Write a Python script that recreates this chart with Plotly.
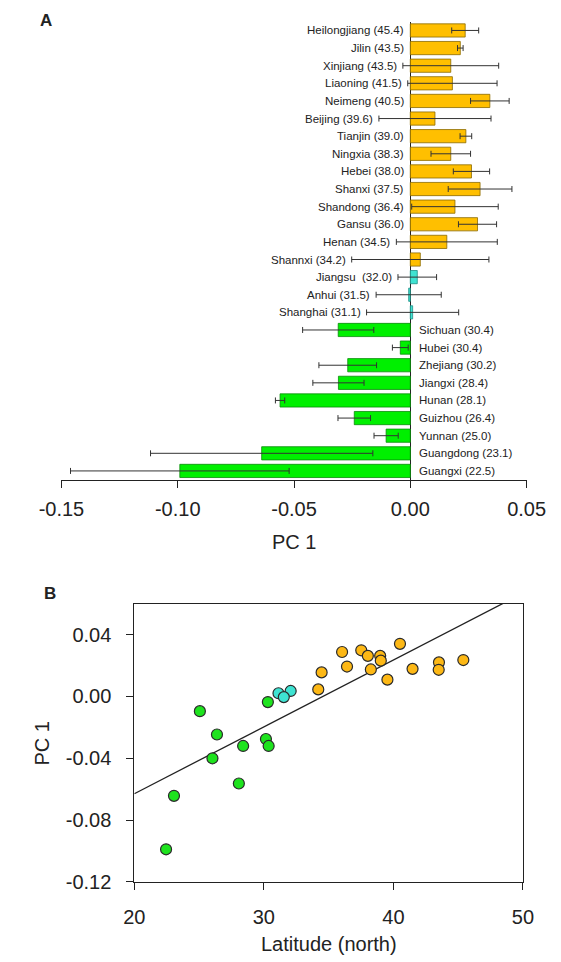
import numpy as np
import plotly.graph_objects as go

# ---------------- Panel A data (top to bottom) ----------------
provinces = ["Heilongjiang (45.4)", "Jilin (43.5)", "Xinjiang (43.5)", "Liaoning (41.5)",
             "Neimeng (40.5)", "Beijing (39.6)", "Tianjin (39.0)", "Ningxia (38.3)",
             "Hebei (38.0)", "Shanxi (37.5)", "Shandong (36.4)", "Gansu (36.0)",
             "Henan (34.5)", "Shannxi (34.2)", "Jiangsu\u00a0 (32.0)", "Anhui (31.5)",
             "Shanghai (31.1)", "Sichuan (30.4)", "Hubei (30.4)", "Zhejiang (30.2)",
             "Jiangxi (28.4)", "Hunan (28.1)", "Guizhou (26.4)", "Yunnan (25.0)",
             "Guangdong (23.1)", "Guangxi (22.5)"]
pc1_mean = [0.0236, 0.0215, 0.0174, 0.0181, 0.0342, 0.0106, 0.0239, 0.0174,
            0.0263, 0.0300, 0.0192, 0.0289, 0.0157, 0.0043, 0.0030, -0.0007,
            0.0010, -0.0310, -0.0043, -0.0269, -0.0309, -0.0560, -0.0241, -0.0104,
            -0.0639, -0.0991]
pc1_err = [0.0058, 0.0012, 0.0206, 0.0192, 0.0083, 0.0241, 0.0025, 0.0085,
           0.0078, 0.0137, 0.0186, 0.0082, 0.0217, 0.0295, 0.0083, 0.0140,
           0.0198, 0.0153, 0.0034, 0.0124, 0.0110, 0.0020, 0.0070, 0.0052,
           0.0478, 0.0470]
group_a = ["N"] * 14 + ["T"] * 3 + ["S"] * 9

# ---------------- Panel B data ----------------
lat_b = [34.2, 34.46, 36.04, 36.42, 37.52, 38.03, 38.26, 38.98, 39.03, 39.54,
         40.51, 41.48, 43.52, 43.5, 45.4,
         32.07, 31.13, 31.54,
         25.06, 30.31, 30.16, 30.37, 28.4, 26.03, 26.38, 28.07, 23.06, 22.45]
pc1_b = [0.0046, 0.0156, 0.0288, 0.0194, 0.0299, 0.0263, 0.0175, 0.0263, 0.0232, 0.0109,
         0.0341, 0.0179, 0.0221, 0.0173, 0.0236,
         0.0036, 0.0021, -0.0004,
         -0.0095, -0.0036, -0.0275, -0.0320, -0.0320, -0.0400, -0.0246, -0.0563, -0.0643, -0.0989]
group_b = ["N"] * 15 + ["T"] * 3 + ["S"] * 10

x_ticks_a = [-0.15, -0.10, -0.05, 0.00, 0.05]
x_ticktext_a = ["-0.15", "-0.10", "-0.05", "0.00", "0.05"]
x_ticks_b = [20, 30, 40, 50]
y_ticks_b = [-0.12, -0.08, -0.04, 0.00, 0.04]
y_ticktext_b = ["-0.12", "-0.08", "-0.04", "0.00", "0.04"]

bar_colors = {"N": "#FFBF00", "T": "#3EE3D2", "S": "#00F000"}
bar_edges = {"N": "#8A6A00", "T": "#1E8F86", "S": "#0A8A0A"}
pt_colors = {"N": "#FDB815", "T": "#3EE3D2", "S": "#1EE31E"}

FONT = "Arial, 'Liberation Sans', sans-serif"
W, H = 561, 962

fig = go.Figure()

# Panel A bars
fig.add_trace(go.Bar(
    x=pc1_mean, y=provinces, orientation="h",
    marker=dict(color=[bar_colors[g] for g in group_a],
                line=dict(color=[bar_edges[g] for g in group_a], width=0.8)),
    error_x=dict(type="data", array=pc1_err, visible=True,
                 color="#333333", thickness=1, width=3),
    xaxis="x", yaxis="y", showlegend=False, hoverinfo="x+y"))

# Panel A labels
annotations = []
for name, v, e, g in zip(provinces, pc1_mean, pc1_err, group_a):
    if g == "S":
        annotations.append(dict(x=0, y=name, xref="x", yref="y", text=name,
                                showarrow=False, xanchor="left", yanchor="middle", xshift=7,
                                font=dict(family=FONT, size=11.5, color="#222")))
    else:
        annotations.append(dict(x=min(0, v - e), y=name, xref="x", yref="y", text=name,
                                showarrow=False, xanchor="right", yanchor="middle", xshift=-4,
                                font=dict(family=FONT, size=11.5, color="#222")))

# Panel B regression line (least squares fit of the points)
slope, intercept = np.polyfit(lat_b, pc1_b, 1)
line_x = [x_ticks_b[0], x_ticks_b[-1]]
line_y = [slope * lx + intercept for lx in line_x]
fig.add_trace(go.Scatter(x=line_x, y=line_y, mode="lines",
                         line=dict(color="#222", width=1.3),
                         xaxis="x2", yaxis="y2", showlegend=False, hoverinfo="skip"))

fig.add_trace(go.Scatter(
    x=lat_b, y=pc1_b, mode="markers",
    marker=dict(size=11, color=[pt_colors[g] for g in group_b],
                line=dict(color="#2a2a2a", width=1.2)),
    xaxis="x2", yaxis="y2", showlegend=False))

def px_y(p):
    return 1 - p / H

def px_x(p):
    return p / W

def note(x, y, text, size, angle=0):
    return dict(x=px_x(x), y=px_y(y), xref="paper", yref="paper", text=text,
                showarrow=False, xanchor="center", yanchor="middle", textangle=angle,
                font=dict(family=FONT, size=size, color="#222"))

annotations += [
    note(16, 13, "<b>A</b>", 17),
    note(20, 592, "<b>B</b>", 17),
    note(284, 540, "PC 1", 20),
    note(12, 744, "PC 1", 20, -90),
    note(322, 947, "Latitude (north)", 20),
]

fig.update_layout(
    width=W, height=H, margin=dict(l=0, r=0, t=0, b=0),
    paper_bgcolor="white", plot_bgcolor="white",
    font=dict(family=FONT, color="#222"),
    bargap=0.25,
    annotations=annotations,
    xaxis=dict(domain=[32.9 / W, 535.7 / W], anchor="y", range=[-0.15, 0.05],
               showline=True, linecolor="#222", linewidth=1, ticks="outside",
               ticklen=7, tickcolor="#222", tickvals=x_ticks_a, ticktext=x_ticktext_a,
               tickfont=dict(size=20, family=FONT, color="#222"), showgrid=False,
               zeroline=True, zerolinecolor="#222", zerolinewidth=1,
               ticklabelstandoff=4),
    yaxis=dict(domain=[px_y(477.2), px_y(13.8)], anchor="x", type="category",
               categoryorder="array", categoryarray=provinces,
               range=[len(provinces) - 0.5, -0.5],
               showticklabels=False, showline=False, showgrid=False, zeroline=False,
               ticks=""),
    xaxis2=dict(domain=[111.7 / W, 531.7 / W], anchor="y2", range=[20, 50],
                showline=True, mirror=True, linecolor="#222", linewidth=1,
                ticks="outside", ticklen=7, tickcolor="#222", tickvals=x_ticks_b,
                tickfont=dict(size=20, family=FONT, color="#222"), showgrid=False,
                zeroline=False, ticklabelstandoff=10),
    yaxis2=dict(domain=[px_y(884), px_y(602.7)], anchor="x2", range=[-0.12, 0.06],
                showline=True, mirror=True, linecolor="#222", linewidth=1,
                ticks="outside", ticklen=7, tickcolor="#222", tickvals=y_ticks_b,
                ticktext=y_ticktext_b,
                tickfont=dict(size=20, family=FONT, color="#222"), showgrid=False,
                zeroline=False, ticklabelstandoff=11),
)

fig.write_html("out.html")
